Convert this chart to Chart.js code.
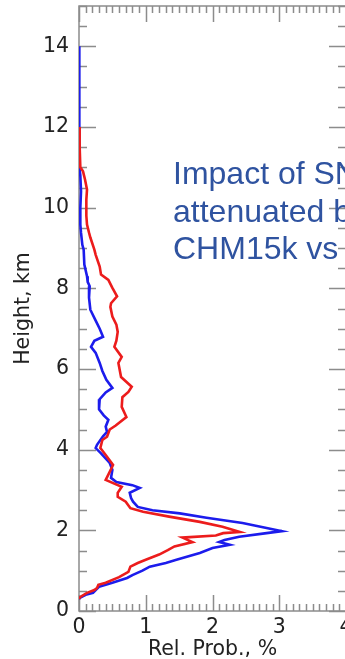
<!DOCTYPE html>
<html><head><meta charset="utf-8">
<script src="https://cdn.jsdelivr.net/npm/chart.js@4.4.1/dist/chart.umd.min.js"></script>
<style>
html,body{margin:0;padding:0;background:#fff;width:345px;height:659px;overflow:hidden;}
#wrap{position:relative;width:345px;height:659px;overflow:hidden;background:#fff;}
#box{position:absolute;left:0;top:0;width:362px;height:662px;}
#note{position:absolute;left:173px;top:155px;font-family:"Liberation Sans",Arial,sans-serif;font-size:32px;line-height:37.5px;color:#2f53a0;white-space:nowrap;}
</style></head><body>
<div id="wrap"><div id="box"><canvas id="c"></canvas></div>
<div id="note">Impact of SN<br>attenuated b<br>CHM15k vs</div></div>
<script>
// Heights (km) and relative probability (%) for each profile
const blueHeights = [14.0,12.0,11.0,10.8,10.4,10.0,9.58,9.38,9.08,8.96,8.59,8.3,8.16,8.05,7.77,7.47,7.2,7.0,6.8,6.7,6.55,6.4,6.15,5.95,5.73,5.53,5.42,5.25,5.0,4.85,4.74,4.57,4.44,4.33,4.12,4.04,3.91,3.67,3.5,3.3,3.2,3.12,3.05,2.93,2.8,2.71,2.58,2.5,2.42,2.31,2.18,2.06,1.98,1.93,1.84,1.76,1.71,1.64,1.56,1.44,1.27,1.19,1.1,1.0,0.89,0.82,0.7,0.6,0.52,0.45,0.4,0.33,0.3];
const blueValues  = [0.0,0.0,0.01,0.02,0.03,0.02,0.02,0.03,0.05,0.07,0.08,0.12,0.13,0.16,0.15,0.17,0.25,0.31,0.36,0.23,0.18,0.25,0.31,0.35,0.41,0.5,0.4,0.31,0.3,0.37,0.44,0.4,0.42,0.36,0.27,0.25,0.33,0.46,0.5,0.48,0.56,0.8,0.91,0.76,0.78,0.81,0.88,1.1,1.51,1.91,2.45,2.81,3.04,2.81,2.4,2.18,2.1,2.26,2.0,1.81,1.46,1.3,1.06,0.95,0.8,0.72,0.5,0.3,0.25,0.21,0.1,0.02,0.0];
const redHeights  = [12.0,11.5,11.0,10.9,10.7,10.45,10.2,10.0,9.8,9.58,9.38,9.26,8.96,8.83,8.54,8.34,8.21,8.01,7.8,7.63,7.54,7.3,7.1,6.92,6.7,6.55,6.3,6.15,5.8,5.56,5.43,5.3,5.06,4.81,4.6,4.5,4.32,4.24,4.04,3.87,3.62,3.45,3.25,3.08,2.93,2.83,2.71,2.55,2.46,2.34,2.21,2.09,1.96,1.93,1.87,1.82,1.71,1.6,1.51,1.4,1.27,1.19,1.1,0.97,0.84,0.7,0.65,0.57,0.52,0.45,0.35,0.3];
const redValues   = [0.0,0.01,0.02,0.06,0.09,0.12,0.11,0.11,0.11,0.12,0.15,0.17,0.23,0.25,0.31,0.33,0.44,0.5,0.57,0.48,0.47,0.5,0.56,0.58,0.56,0.53,0.64,0.59,0.63,0.79,0.74,0.65,0.64,0.71,0.55,0.46,0.42,0.35,0.32,0.4,0.51,0.46,0.4,0.64,0.58,0.58,0.7,0.77,0.96,1.35,1.81,2.15,2.41,2.16,2.05,1.55,1.7,1.43,1.33,1.2,1.0,0.88,0.77,0.74,0.6,0.4,0.29,0.27,0.23,0.12,0.02,0.0];
// Axis tick labels
const xTickValues = [0,1,2,3,4];
const yTickValues = [0,2,4,6,8,10,12,14];
const xMinorStep = 0.1;
const yMinorStep = 0.5;

const toPts = (hs, vs) => hs.map((h,i)=>({x:vs[i], y:h}));

const frameTicks = {
  id:'frameTicks',
  beforeDatasetsDraw(chart){
    const {ctx, chartArea:a, scales:{x,y}} = chart;
    ctx.save();
    ctx.strokeStyle = '#8c8c8c';
    ctx.lineWidth = 1.5;
    ctx.beginPath();
    const nx = Math.round((x.max - x.min)/xMinorStep);
    for(let i=0;i<=nx;i++){
      const v = x.min + i*xMinorStep;
      const major = xTickValues.some(t=>Math.abs(t-v)<1e-6);
      const L = major ? 16 : 7;
      const px = Math.round(x.getPixelForValue(v))+0.5;
      ctx.moveTo(px, a.bottom); ctx.lineTo(px, a.bottom-L);
      ctx.moveTo(px, a.top); ctx.lineTo(px, a.top+L);
    }
    const ny = Math.round((y.max - y.min)/yMinorStep);
    for(let i=0;i<=ny;i++){
      const v = y.min + i*yMinorStep;
      const major = yTickValues.some(t=>Math.abs(t-v)<1e-6);
      const L = major ? 17 : 8;
      const py = Math.round(y.getPixelForValue(v))+0.5;
      ctx.moveTo(a.left, py); ctx.lineTo(a.left+L, py);
      ctx.moveTo(a.right, py); ctx.lineTo(a.right-L, py);
    }
    ctx.stroke();
    ctx.strokeRect(a.left, a.top, a.right-a.left, a.bottom-a.top);
    ctx.restore();
  }
};

Chart.defaults.font.family = '"DejaVu Sans", Verdana, sans-serif';
Chart.defaults.font.size = 20.5;
Chart.defaults.color = '#222';

new Chart(document.getElementById('c'), {
  type:'scatter',
  data:{datasets:[
    {label:'red', data:toPts(redHeights, redValues), showLine:true, borderColor:'#ec1c1c', backgroundColor:'#ec1c1c', borderWidth:2.6, pointRadius:0, tension:0},
    {label:'blue', data:toPts(blueHeights, blueValues), showLine:true, borderColor:'#1c1cec', backgroundColor:'#1c1cec', borderWidth:2.6, pointRadius:0, tension:0}
  ]},
  options:{
    responsive:true, maintainAspectRatio:false, animation:false,
    layout:{padding:{top:6, right:16, left:0, bottom:0}},
    plugins:{legend:{display:false}, tooltip:{enabled:false}},
    scales:{
      x:{type:'linear', min:0, max:4,
        afterBuildTicks:s=>{s.ticks = xTickValues.map(v=>({value:v}));},
        afterFit:s=>{s.height = 51; s.paddingLeft = 0; s.paddingRight = 0; s.paddingTop = 0; s.paddingBottom = 0;},
        grid:{display:false, drawTicks:false}, border:{display:false},
        ticks:{padding:4, color:'#222', maxRotation:0, autoSkip:false},
        title:{display:true, text:'Rel. Prob., %', color:'#222', padding:{top:0,bottom:0}}
      },
      y:{type:'linear', min:0, max:15,
        afterBuildTicks:s=>{s.ticks = yTickValues.map(v=>({value:v}));},
        afterFit:s=>{s.width = 79; s.paddingLeft = 0; s.paddingRight = 0; s.paddingTop = 0; s.paddingBottom = 0;},
        grid:{display:false, drawTicks:false}, border:{display:false},
        ticks:{padding:10, color:'#222', autoSkip:false},
        title:{display:true, text:'Height, km', color:'#222', padding:{top:11,bottom:0}}
      }
    }
  },
  plugins:[frameTicks]
});
</script>
</body></html>
